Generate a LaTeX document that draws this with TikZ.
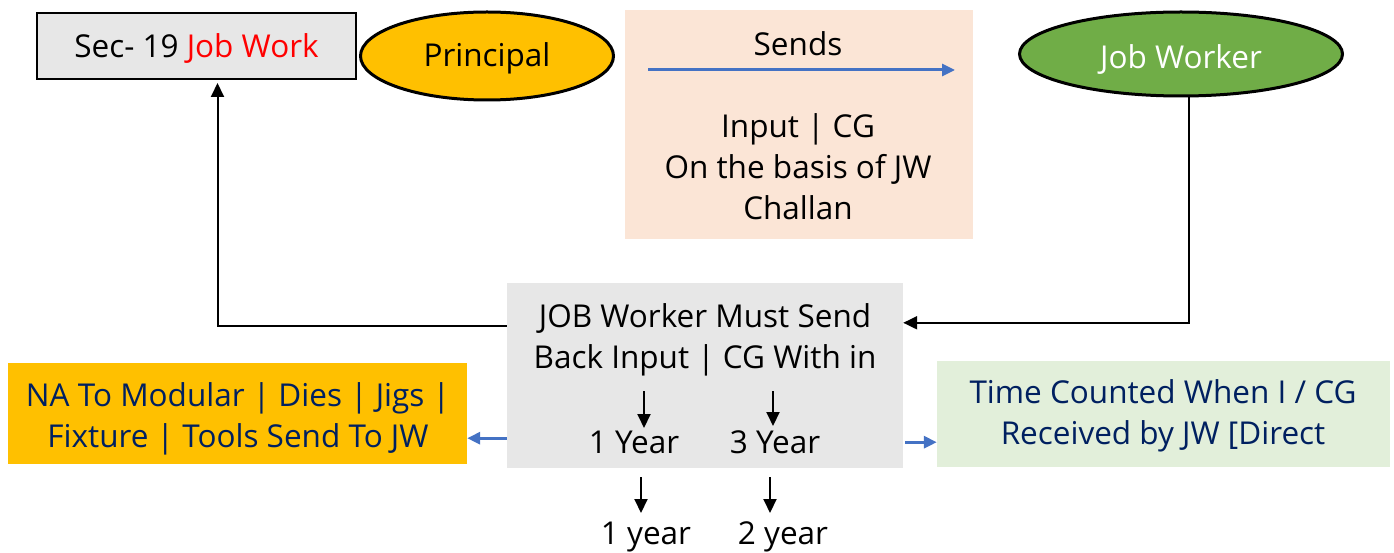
\documentclass[tikz,border=0pt]{standalone}
\usepackage{fontspec}
\setmainfont{Open Sans}
\usetikzlibrary{arrows.meta,shapes.geometric}
\definecolor{boxgray}{HTML}{E7E7E7}
\definecolor{gold}{HTML}{FFC000}
\definecolor{peach}{HTML}{FBE5D6}
\definecolor{leaf}{HTML}{70AD47}
\definecolor{mint}{HTML}{E2EFDA}
\definecolor{navy}{HTML}{002060}
\definecolor{arrowblue}{HTML}{4472C4}
\definecolor{jobred}{HTML}{FF0000}
\tikzset{
  plainbox/.style={rectangle, inner sep=0pt},
  oval/.style={ellipse, draw=black, line width=3pt, inner sep=0pt},
  label text/.style={font=\fontsize{31.5}{41}\selectfont, align=center, inner sep=0pt},
  conn/.style={draw=black, line width=2pt, -{Triangle[length=14pt,width=13pt]}},
  bluearr/.style={draw=arrowblue, line width=3pt, -{Triangle[length=13pt,width=12pt]}},
}
\begin{document}
\begin{tikzpicture}[x=1pt,y=-1pt]
\useasboundingbox (0,0) rectangle (1394,553);

% top row
\node[plainbox, draw=black, line width=2pt, fill=boxgray, minimum width=319pt, minimum height=66pt] (sec) at (196.5,46) {};
\node[label text] (sectext) at (196.5,48) {Sec- 19 \textcolor{jobred}{Job Work}};

\node[oval, fill=gold, minimum width=253pt, minimum height=88pt] (principal) at (487,56) {};
\node[label text] (ptext) at (487,58) {Principal};

\node[plainbox, fill=peach, minimum width=348pt, minimum height=229pt] (sends) at (799,124.5) {};
\node[label text] (sendstext) at (798,44) {Sends};
\coordinate (sa) at (648,70);
\coordinate (sb) at (955,70);
\draw[bluearr] (sa) -- (sb);
\node[label text] (goods) at (798,167) {Input | CG\\On the basis of JW\\Challan};

\node[oval, fill=leaf, minimum width=323pt, minimum height=84pt] (jw) at (1181,54) {};
\node[label text, text=white] (jwtext) at (1181,59) {Job Worker};

% central box
\node[plainbox, fill=boxgray, minimum width=396pt, minimum height=185pt] (cbox) at (705,375.5) {};
\node[label text] (must) at (705,340) {JOB Worker Must Send\\Back Input | CG With in};
\node[label text] (y1) at (634,442) {1 Year};
\node[label text] (y3) at (775,442) {3 Year};
\coordinate (a1) at (644,391);
\coordinate (a3) at (773,391);
\draw[conn] (a1) -- (a1 |- 0,428);
\draw[conn] (a3) -- (a3 |- 0,426);

% below the central box
\node[label text] (b1) at (646,537) {1 year};
\node[label text] (b2) at (783,537) {2 year};
\coordinate (c1) at (641,477);
\coordinate (c2) at (770,477);
\draw[conn] (c1) -- (c1 |- 0,513);
\draw[conn] (c2) -- (c2 |- 0,513);

% side boxes
\node[plainbox, fill=gold, minimum width=459pt, minimum height=101pt] (na) at (237.5,413.5) {};
\node[label text, text=navy] (natext) at (238,419) {NA To Modular | Dies | Jigs |\\Fixture | Tools Send To JW};

\node[plainbox, fill=mint, minimum width=453pt, minimum height=106pt] (time) at (1163.5,414) {};
\node[label text, text=navy] (timetext) at (1163,416) {Time Counted When I / CG\\Received by JW [Direct};

% connectors
\draw[conn] ([xshift=8pt]jw.south) |- ([yshift=-40pt]cbox.north east);
\draw[conn] ([yshift=-43pt]cbox.north west) -| ([xshift=21pt,yshift=-3pt]sec.south);
\coordinate (la) at ([yshift=30pt]cbox.south west);
\draw[bluearr] (la) -- (la -| na.east);
\coordinate (ra) at ([yshift=26pt,xshift=2pt]cbox.south east);
\draw[bluearr] (ra) -- (ra -| time.west);
\end{tikzpicture}
\end{document}
